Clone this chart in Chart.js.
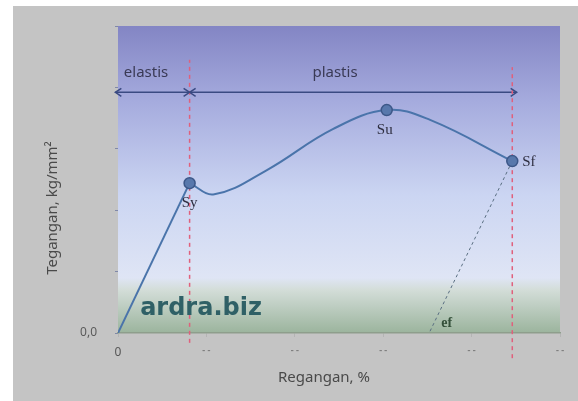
<!DOCTYPE html>
<html>
<head>
<meta charset="utf-8">
<script src="https://cdn.jsdelivr.net/npm/chart.js@4/dist/chart.umd.min.js"></script>
<style>
html,body{margin:0;padding:0;background:#fff;}
#c{display:block;}
</style>
</head>
<body>
<canvas id="c" width="578" height="401"></canvas>
<script>
// ---- data (strain %, stress kg/mm²) ----
const xTickLabels = ['0', '- -', '- -', '- -', '- -', '- -'];
const yTickLabels = ['0,0', '', '', '', '', ''];

const elasticStrain = [0, 0.81];
const elasticStress = [0, 2.44];

const plasticStrain = [0.81, 1.09, 1.68, 2.43, 3.04, 3.53, 4.46];
const plasticStress = [2.44, 2.26, 2.65, 3.32, 3.63, 3.47, 2.80];

const markerNames  = ['Sy', 'Su', 'Sf'];
const markerStrain = [0.81, 3.04, 4.46];
const markerStress = [2.44, 3.63, 2.80];

const fractureStrainEf = 3.52;     // ef, where unloading line meets the axis
const zoneArrowStress = 3.92;      // level of the elastis / plastis arrows
const zoneStart = -0.03, zoneEnd = 4.51;

const pts = (xs, ys) => xs.map((x, i) => ({x, y: ys[i]}));

const annot = {
  id: 'annot',
  beforeDraw(chart) {
    const {ctx, chartArea: a, width, height} = chart;
    ctx.save();
    ctx.fillStyle = '#ffffff';
    ctx.fillRect(0, 0, width, height);
    ctx.fillStyle = '#c4c4c4';
    ctx.fillRect(13, 6, width - 13, height - 6);
    const g = ctx.createLinearGradient(0, a.top, 0, a.bottom);
    g.addColorStop(0.00, '#8385c4');
    g.addColorStop(0.25, '#a6acde');
    g.addColorStop(0.55, '#cbd5f2');
    g.addColorStop(0.82, '#dfe5f5');
    g.addColorStop(0.86, '#d3ddd8');
    g.addColorStop(1.00, '#9bb49d');
    ctx.fillStyle = g;
    ctx.fillRect(a.left, a.top, a.right - a.left, a.bottom - a.top);
    ctx.restore();
  },
  afterDatasetsDraw(chart) {
    const {ctx} = chart;
    const sx = chart.scales.x, sy = chart.scales.y;
    const X = v => sx.getPixelForValue(v), Y = v => sy.getPixelForValue(v);
    ctx.save();
    // arrow heads
    ctx.strokeStyle = '#3a4a82';
    ctx.lineWidth = 1.5;
    const ay = Y(zoneArrowStress);
    const head = (x, dir) => {
      ctx.beginPath();
      ctx.moveTo(x - dir * 6, ay - 4);
      ctx.lineTo(x, ay);
      ctx.lineTo(x - dir * 6, ay + 4);
      ctx.stroke();
    };
    head(X(zoneStart), -1);
    head(X(markerStrain[0]), 1);
    head(X(markerStrain[0]), -1);
    head(X(zoneEnd), 1);

    // zone labels
    ctx.fillStyle = '#3a3a55';
    ctx.font = '15px "Noto Sans"';
    ctx.textAlign = 'center';
    ctx.textBaseline = 'middle';
    ctx.fillText('elastis', 146, 73);
    ctx.fillText('plastis', 335, 73);

    // point labels
    ctx.font = '15px "Liberation Serif"';
    ctx.fillStyle = '#2e2e40';
    ctx.fillText(markerNames[0], X(markerStrain[0]), Y(markerStress[0]) + 20);
    ctx.fillText(markerNames[1], X(markerStrain[1]) - 2, Y(markerStress[1]) + 20);
    ctx.textAlign = 'left';
    ctx.fillText(markerNames[2], X(markerStrain[2]) + 10, Y(markerStress[2]) + 1);

    // ef
    ctx.font = 'bold 14px "Liberation Serif"';
    ctx.fillStyle = '#34503a';
    ctx.textAlign = 'left';
    ctx.fillText('ef', X(fractureStrainEf) + 12, Y(0) - 10);

    // watermark
    ctx.font = 'bold 24px "DejaVu Sans"';
    ctx.fillStyle = '#2f6066';
    ctx.textAlign = 'center';
    ctx.textBaseline = 'alphabetic';
    ctx.fillText('ardra.biz', 201, 315);

    // axis titles
    ctx.font = '15px "Noto Sans"';
    ctx.fillStyle = '#4a4a4a';
    ctx.textBaseline = 'middle';
    ctx.textAlign = 'center';
    ctx.fillText('Regangan, %', 324, 378);
    ctx.translate(53, 208);
    ctx.rotate(-Math.PI / 2);
    ctx.fillText('Tegangan, kg/mm²', 0, 0);
    ctx.restore();
  }
};

const lineDs = (data, color, width, dash, extra) => Object.assign({
  data, showLine: true, borderColor: color, borderWidth: width,
  borderDash: dash, pointRadius: 0, fill: false, tension: 0
}, extra || {});

new Chart(document.getElementById('c'), {
  type: 'scatter',
  data: {
    datasets: [
      {
        data: pts(markerStrain, markerStress), showLine: false,
        pointRadius: 5.5, pointBackgroundColor: '#5878ac',
        pointBorderColor: '#3c5788', pointBorderWidth: 1.5
      },
      lineDs(pts(elasticStrain, elasticStress), '#4a74aa', 2, []),
      lineDs(pts(plasticStrain, plasticStress), '#4a74aa', 2, [], {tension: 0.4}),
      lineDs([{x: markerStrain[2], y: markerStress[2]}, {x: fractureStrainEf, y: 0}], '#5a6f82', 1, [3, 3]),
      lineDs([{x: markerStrain[0], y: -0.16}, {x: markerStrain[0], y: 4.45}], '#e0607c', 1.5, [4, 4], {clip: false}),
      lineDs([{x: markerStrain[2], y: -0.41}, {x: markerStrain[2], y: 4.33}], '#e0607c', 1.5, [4, 4], {clip: false}),
      lineDs([{x: zoneStart, y: zoneArrowStress}, {x: markerStrain[0], y: zoneArrowStress}], '#3a4a82', 1.5, [], {clip: false}),
      lineDs([{x: markerStrain[0], y: zoneArrowStress}, {x: zoneEnd, y: zoneArrowStress}], '#3a4a82', 1.5, [], {clip: false})
    ]
  },
  options: {
    responsive: false,
    animation: false,
    events: [],
    layout: {padding: {left: 0, top: 26, right: 18, bottom: 0}},
    plugins: {legend: {display: false}, tooltip: {enabled: false}},
    scales: {
      x: {
        type: 'linear', min: 0, max: 5,
        afterFit: s => { s.height = 68; },
        border: {display: true, color: '#8e9e8c', width: 1.5},
        grid: {drawOnChartArea: false, drawTicks: true, tickLength: 4, color: '#b4b4b4'},
        ticks: {
          stepSize: 1, padding: 8, maxRotation: 0,
          font: c => ({family: 'Noto Sans', size: c.index === 0 ? 12 : 9, weight: c.index === 0 ? 'normal' : 'bold'}),
          color: c => c.index === 0 ? '#555555' : '#7e7e7e',
          callback: (v, i) => xTickLabels[i]
        }
      },
      y: {
        type: 'linear', min: 0, max: 5,
        afterFit: s => { s.width = 118; },
        border: {display: false},
        grid: {drawOnChartArea: false, drawTicks: true, tickLength: 3, color: '#8088a8'},
        ticks: {
          stepSize: 1, padding: 18,
          font: {family: 'Noto Sans', size: 12},
          color: '#5a5a5a',
          callback: (v, i) => yTickLabels[i]
        }
      }
    }
  },
  plugins: [annot]
});
</script>
</body>
</html>
